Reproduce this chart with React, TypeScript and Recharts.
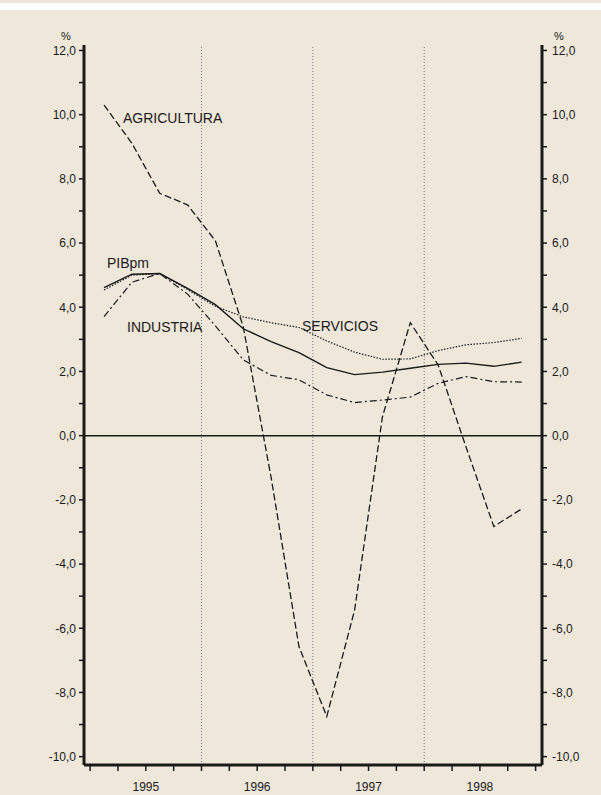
import React from "react";
import {
  LineChart,
  Line,
  XAxis,
  YAxis,
  ReferenceLine,
} from "recharts";

// trimestres 1995-1998
const periods = [
  "95-I", "95-II", "95-III", "95-IV",
  "96-I", "96-II", "96-III", "96-IV",
  "97-I", "97-II", "97-III", "97-IV",
  "98-I", "98-II", "98-III", "98-IV",
];
const years = ["1995", "1996", "1997", "1998"];

const agricultura = [10.3, 9.11, 7.55, 7.19, 6.07, 3.39, -1.3, -6.57, -8.75, -5.43, 0.59, 3.52, 2.2, -0.35, -2.83, -2.28];
const pibpm = [4.61, 5.03, 5.05, 4.59, 4.08, 3.33, 2.93, 2.59, 2.12, 1.9, 1.98, 2.1, 2.22, 2.26, 2.16, 2.29];
const servicios = [4.54, 5.0, 5.05, 4.55, 4.03, 3.7, 3.52, 3.37, 2.95, 2.6, 2.38, 2.39, 2.65, 2.83, 2.9, 3.03];
const industria = [3.71, 4.78, 5.05, 4.41, 3.42, 2.36, 1.88, 1.74, 1.27, 1.03, 1.11, 1.2, 1.63, 1.84, 1.68, 1.67];

const yTicks = [-10, -9, -8, -7, -6, -5, -4, -3, -2, -1, 0, 1, 2, 3, 4, 5, 6, 7, 8, 9, 10, 11, 12];
const xTicks = [0, 1, 2, 3, 4, 5, 6, 7, 8, 9, 10, 11, 12, 13, 14, 15, 16];

const data = periods.map((p, i) => ({
  x: i + 0.5,
  name: p,
  agricultura: agricultura[i],
  pibpm: pibpm[i],
  servicios: servicios[i],
  industria: industria[i],
}));

const BG = "#efe7da";
const INK = "#1a1a1a";
const FONT = "'Liberation Sans', Arial, sans-serif";

const fmtY = (v: number) => (v % 2 === 0 ? v.toFixed(1).replace(".", ",") : "");
const fmtX = (v: number) => {
  const idx = [2, 6, 10, 14].indexOf(v);
  return idx >= 0 ? years[idx] : "";
};

const label = (text: string, left: number, top: number, size = 14) => (
  <div
    style={{
      position: "absolute",
      left,
      top,
      fontSize: size,
      fontFamily: FONT,
      color: INK,
      lineHeight: 1,
      whiteSpace: "nowrap",
    }}
  >
    {text}
  </div>
);

export default function App() {
  return (
    <div
      style={{
        position: "absolute",
        left: 0,
        top: 0,
        width: 601,
        height: 795,
        background: BG,
        fontFamily: FONT,
      }}
    >
      <div style={{ position: "absolute", left: 0, top: 3, width: 601, height: 7, background: "#fff" }} />
      <LineChart
        width={601}
        height={795}
        data={data}
        margin={{ top: 45, right: 19, bottom: 5, left: 44 }}
      >
        <XAxis
          dataKey="x"
          type="number"
          domain={[-0.22, 16.23]}
          ticks={xTicks}
          allowDataOverflow
          tickFormatter={fmtX}
          interval={0}
          height={25}
          tickSize={6}
          tickMargin={11}
          axisLine={{ stroke: INK, strokeWidth: 3 }}
          tickLine={{ stroke: INK, strokeWidth: 1.5 }}
          tick={{ fill: INK, fontSize: 12, fontFamily: FONT }}
        />
        <YAxis
          yAxisId="left"
          type="number"
          domain={[-10.26, 12.17]}
          ticks={yTicks}
          allowDataOverflow
          interval={0}
          width={40}
          tickSize={5}
          tickMargin={3}
          tickFormatter={fmtY}
          axisLine={{ stroke: INK, strokeWidth: 3 }}
          tickLine={{ stroke: INK, strokeWidth: 1.5 }}
          tick={{ fill: INK, fontSize: 12, fontFamily: FONT }}
        />
        <YAxis
          yAxisId="right"
          orientation="right"
          type="number"
          domain={[-10.26, 12.17]}
          ticks={yTicks}
          allowDataOverflow
          interval={0}
          width={40}
          tickSize={5}
          tickMargin={5}
          tickFormatter={fmtY}
          axisLine={{ stroke: INK, strokeWidth: 3 }}
          tickLine={{ stroke: INK, strokeWidth: 1.5 }}
          tick={{ fill: INK, fontSize: 12, fontFamily: FONT, textAnchor: "start" }}
        />
        {[4, 8, 12].map((v) => (
          <ReferenceLine
            key={v}
            x={v}
            yAxisId="left"
            stroke="#777"
            strokeWidth={1}
            strokeDasharray="1 2"
          />
        ))}
        <ReferenceLine y={0} yAxisId="left" stroke={INK} strokeWidth={1.5} />
        <Line
          yAxisId="left"
          dataKey="agricultura"
          stroke={INK}
          strokeWidth={1.3}
          strokeDasharray="7 3"
          dot={false}
          isAnimationActive={false}
        />
        <Line
          yAxisId="left"
          dataKey="servicios"
          stroke={INK}
          strokeWidth={1.2}
          strokeDasharray="1.5 1.5"
          dot={false}
          isAnimationActive={false}
        />
        <Line
          yAxisId="left"
          dataKey="industria"
          stroke={INK}
          strokeWidth={1.2}
          strokeDasharray="7 3 2 3"
          dot={false}
          isAnimationActive={false}
        />
        <Line
          yAxisId="left"
          dataKey="pibpm"
          stroke={INK}
          strokeWidth={1.4}
          dot={false}
          isAnimationActive={false}
        />
      </LineChart>
      {label("%", 61, 31, 11)}
      {label("%", 554, 31, 11)}
      {label("AGRICULTURA", 123, 111)}
      {label("PIBpm", 107, 256)}
      {label("INDUSTRIA", 127, 320)}
      {label("SERVICIOS", 302, 319)}
    </div>
  );
}
